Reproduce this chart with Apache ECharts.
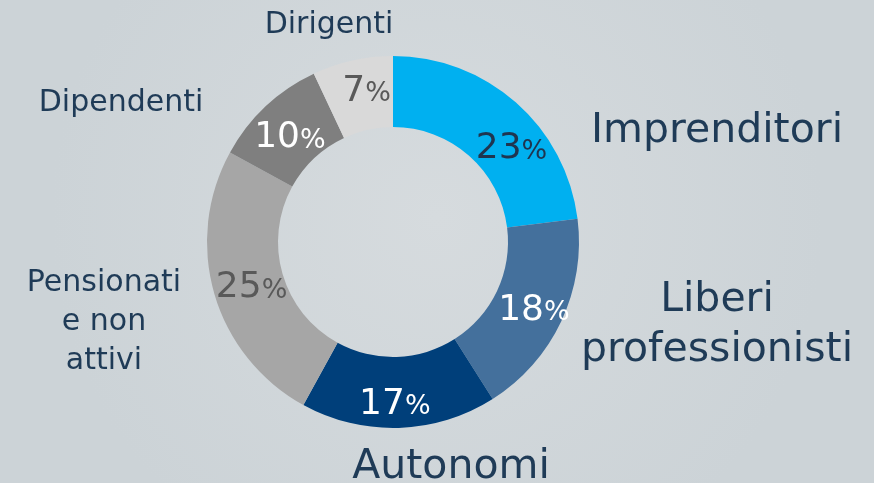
<!DOCTYPE html>
<html>
<head>
<meta charset="utf-8">
<script src="https://cdn.jsdelivr.net/npm/echarts@6/dist/echarts.min.js"></script>
<style>
  html, body { margin: 0; padding: 0; }
  #chart { width: 874px; height: 483px; }
</style>
</head>
<body>
<div id="chart"></div>
<script>
// dati
const categories = ['Imprenditori', 'Liberi\nprofessionisti', 'Autonomi', 'Pensionati\ne non\nattivi', 'Dipendenti', 'Dirigenti'];
const values = [23, 18, 17, 25, 10, 7];

const colors = ['#00B0F0', '#44709C', '#003F7A', '#A6A6A6', '#7F7F7F', '#D9D9D9'];
const pctColors = ['#1F3550', '#FFFFFF', '#FFFFFF', '#595959', '#FFFFFF', '#595959'];
// spostamento etichetta percentuale (solo la prima non sta al centro)
const pctOffset = [[17, 22], [2, 3], [-3, 9], [6, 3], [2, 8], [7, -1]];
// posizione e dimensione dei nomi
const nameLabelPos = [[717, 131], [717, 325], [451, 467], [104, 322], [121, 103], [329, 25]];
const nameFontSize = [41, 41, 41, 30, 30, 30];
const nameLineHeight = [41, 50, 41, 39, 30, 30];

const chart = echarts.init(document.getElementById('chart'));

const pieData = values.map((v, i) => ({
  value: v,
  name: categories[i],
  itemStyle: { color: colors[i] },
  label: {
    offset: pctOffset[i],
    rich: {
      n: { fontSize: 36, color: pctColors[i], fontFamily: 'DejaVu Sans' },
      p: { fontSize: 27, color: pctColors[i], fontFamily: 'DejaVu Sans', padding: [6, 0, 0, 0] }
    }
  }
}));

const nameData = values.map((v, i) => ({
  value: v,
  name: categories[i],
  label: { fontSize: nameFontSize[i], lineHeight: nameLineHeight[i] }
}));

const option = {
  backgroundColor: {
    type: 'radial', x: 0.5, y: 0.45, r: 0.8,
    colorStops: [
      { offset: 0, color: '#D6DBDE' },
      { offset: 1, color: '#CCD3D7' }
    ]
  },
  animation: false,
  series: [
    {
      type: 'pie',
      center: [393, 242],
      radius: [115, 186],
      startAngle: 90,
      clockwise: true,
      silent: true,
      itemStyle: { borderWidth: 0 },
      label: {
        position: 'inside',
        formatter: p => '{n|' + p.value + '}{p|%}'
      },
      labelLine: { show: false },
      data: pieData
    },
    {
      type: 'pie',
      center: [393, 242],
      radius: [115, 186],
      startAngle: 90,
      clockwise: true,
      silent: true,
      itemStyle: { color: 'rgba(0,0,0,0)' },
      label: {
        position: 'inside',
        color: '#1F3B57',
        fontFamily: 'DejaVu Sans',
        align: 'center',
        overflow: 'none'
      },
      labelLine: { show: false },
      labelLayout: p => ({
        x: nameLabelPos[p.dataIndex][0],
        y: nameLabelPos[p.dataIndex][1],
        align: 'center',
        verticalAlign: 'middle'
      }),
      data: nameData
    }
  ]
};

chart.setOption(option);
</script>
</body>
</html>
